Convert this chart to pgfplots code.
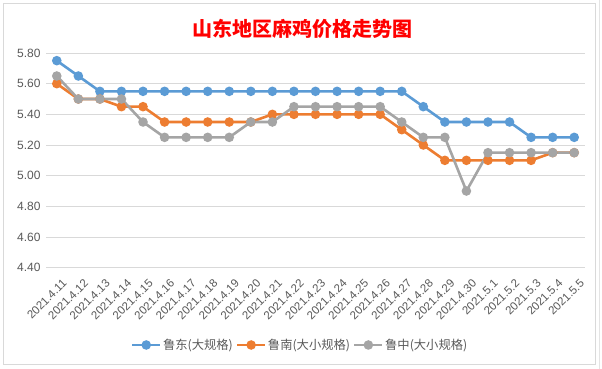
\documentclass[border=0pt]{standalone}
\usepackage{fontspec}
\setmainfont{Liberation Sans}
\newfontfamily\cjk{Noto Sans CJK SC}
\usepackage{pgfplots}
\pgfplotsset{compat=1.18}
\definecolor{sblue}{HTML}{5B9BD5}
\definecolor{sorange}{HTML}{ED7D31}
\definecolor{sgray}{HTML}{A5A5A5}
\definecolor{gridc}{HTML}{D9D9D9}
\definecolor{txt}{HTML}{595959}
\definecolor{framec}{HTML}{D9D9D9}
\begin{document}
\begin{tikzpicture}
\useasboundingbox (0,0) rectangle (602bp,369bp);
\fill[white] (0,0) rectangle (602bp,369bp);
\draw[framec, line width=0.8bp] (3bp,5bp) rectangle (595bp,366bp);
\draw[framec!70, line width=0.6bp] (599bp,0bp) -- (599bp,369bp);
\node[text=red, font=\cjk\bfseries\fontsize{20bp}{24bp}\selectfont] at (302bp,340bp) {山东地区麻鸡价格走势图};
\begin{axis}[
  at={(46bp,101.3bp)}, anchor=south west,
  scale only axis, width=539bp, height=214.7bp,
  xmin=-0.5, xmax=24.5, ymin=4.4, ymax=5.8,
  ytick={4.4,4.6,4.8,5.0,5.2,5.4,5.6,5.8},
  yticklabel style={/pgf/number format/fixed, /pgf/number format/fixed zerofill, /pgf/number format/precision=2, /pgf/number format/assume math mode=true, font=\fontsize{12bp}{14bp}\selectfont, text=txt, xshift=-2bp},
  xtick={0,...,24},
  xticklabels={2021.4.11,2021.4.12,2021.4.13,2021.4.14,2021.4.15,2021.4.16,2021.4.17,2021.4.18,2021.4.19,2021.4.20,2021.4.21,2021.4.22,2021.4.23,2021.4.24,2021.4.25,2021.4.26,2021.4.27,2021.4.28,2021.4.29,2021.4.30,2021.5.1,2021.5.2,2021.5.3,2021.5.4,2021.5.5},
  xticklabel style={font=\fontsize{11.5bp}{14bp}\selectfont, text=txt, rotate=45, anchor=north east, xshift=-4bp, yshift=-11bp, inner sep=0pt},
  axis line style={draw=none},
  tick style={draw=none},
  ymajorgrids,
  major grid style={gridc, line width=0.8bp},
  clip=false,
  legend columns=3,
  legend style={at={(0.471,-0.36)}, anchor=center, draw=none, fill=none,
     font=\cjk\fontsize{12.3bp}{15bp}\selectfont, text=txt,
     nodes={inner sep=1.5bp},
     /tikz/every even column/.append style={column sep=1.5bp},
     inner sep=0pt},
  legend image code/.code={\draw[mark repeat=2,mark phase=2,#1] plot coordinates {(0bp,0bp) (14bp,0bp) (28bp,0bp)};},
  every axis plot/.append style={line width=2.6bp, mark=*, mark size=3.4bp, mark options={solid}},
]
\addplot[sblue, mark options={fill=sblue, draw=sblue}] coordinates {
(0,5.75)(1,5.65)(2,5.55)(3,5.55)(4,5.55)(5,5.55)(6,5.55)(7,5.55)(8,5.55)(9,5.55)(10,5.55)(11,5.55)(12,5.55)(13,5.55)(14,5.55)(15,5.55)(16,5.55)(17,5.45)(18,5.35)(19,5.35)(20,5.35)(21,5.35)(22,5.25)(23,5.25)(24,5.25)};
\addlegendentry{鲁东(大规格)}
\addplot[sorange, mark options={fill=sorange, draw=sorange}] coordinates {
(0,5.60)(1,5.50)(2,5.50)(3,5.45)(4,5.45)(5,5.35)(6,5.35)(7,5.35)(8,5.35)(9,5.35)(10,5.40)(11,5.40)(12,5.40)(13,5.40)(14,5.40)(15,5.40)(16,5.30)(17,5.20)(18,5.10)(19,5.10)(20,5.10)(21,5.10)(22,5.10)(23,5.15)(24,5.15)};
\addlegendentry{鲁南(大小规格)}
\addplot[sgray, mark options={fill=sgray, draw=sgray}] coordinates {
(0,5.65)(1,5.50)(2,5.50)(3,5.50)(4,5.35)(5,5.25)(6,5.25)(7,5.25)(8,5.25)(9,5.35)(10,5.35)(11,5.45)(12,5.45)(13,5.45)(14,5.45)(15,5.45)(16,5.35)(17,5.25)(18,5.25)(19,4.90)(20,5.15)(21,5.15)(22,5.15)(23,5.15)(24,5.15)};
\addlegendentry{鲁中(大小规格)}
\end{axis}
\end{tikzpicture}
\end{document}
